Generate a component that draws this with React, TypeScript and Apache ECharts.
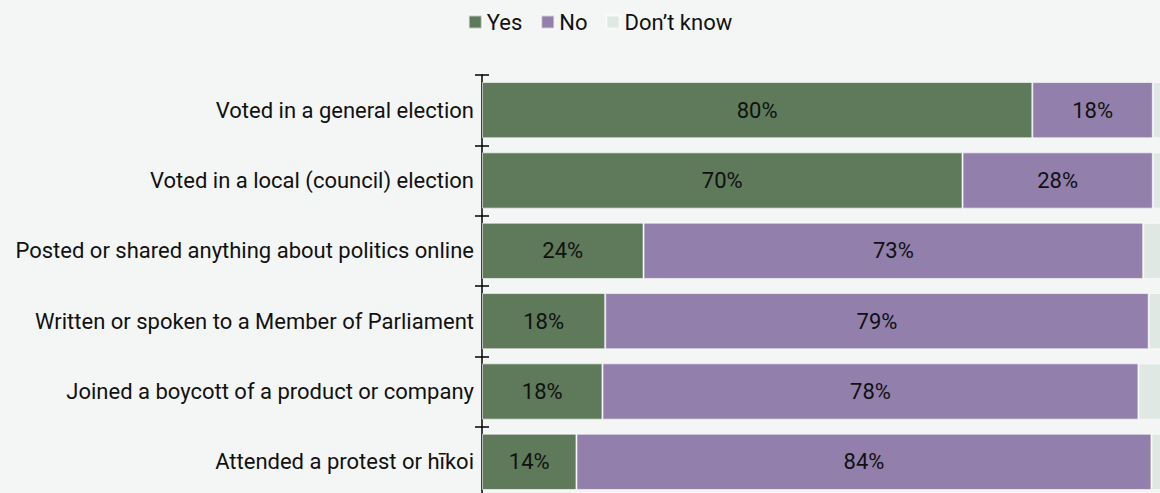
import React, { useEffect, useRef } from "react";
import * as echarts from "echarts";

const categories = [
  "Voted in a general election",
  "Voted in a local (council) election",
  "Posted or shared anything about politics online",
  "Written or spoken to a Member of Parliament",
  "Joined a boycott of a product or company",
  "Attended a protest or hīkoi",
];
const yesValues = [80.4, 70.2, 23.6, 18.0, 17.6, 13.8];
const noValues = [17.6, 27.8, 73.0, 79.4, 78.3, 84.0];
const dkValues = [2.0, 2.0, 3.4, 2.6, 4.1, 2.2];
const seriesNames = ["Yes", "No", "Don’t know"];
const colors = ["#5e7a5a", "#927fab", "#e0e8e4"];

export default function App() {
  const ref = useRef<HTMLDivElement>(null);
  useEffect(() => {
    if (!ref.current) return;
    const chart = echarts.init(ref.current, null, { renderer: "svg" });
    const font = "Roboto";
    const mk = (name: string, data: number[], color: string, showLabel: boolean) => ({
      name,
      type: "bar",
      stack: "total",
      barWidth: "80%",
      data,
      itemStyle: { color, borderColor: "rgba(255,255,255,0.6)", borderWidth: 1 },
      label: {
        show: showLabel,
        position: "inside",
        color: "#111",
        fontFamily: font,
        fontSize: 22,
        formatter: (p: any) => Math.round(p.value) + "%",
      },
      emphasis: { disabled: true },
    });
    chart.setOption({
      animation: false,
      backgroundColor: "#f4f6f5",
      color: colors,
      legend: {
        top: 6,
        left: "center",
        itemWidth: 13,
        itemHeight: 13,
        itemGap: 18,
        icon: "rect",
        textStyle: { fontFamily: font, fontSize: 22, color: "#111" },
        data: seriesNames,
      },
      grid: { left: 482, top: 75, width: 684.5, height: 422, containLabel: false },
      xAxis: { type: "value", min: 0, max: 100, show: false },
      yAxis: [
        {
          type: "category",
          data: categories,
          inverse: true,
          axisLine: { show: true, lineStyle: { color: "#000", width: 1.5 } },
          axisTick: { show: true, length: 7, lineStyle: { color: "#000", width: 1.5 } },
          axisLabel: { fontFamily: font, fontSize: 22, color: "#111", margin: 8 },
        },
        {
          type: "category",
          data: categories,
          inverse: true,
          position: "left",
          axisLine: { show: false },
          axisTick: { show: true, inside: true, length: 7, lineStyle: { color: "#000", width: 1.5 } },
          axisLabel: { show: false },
        },
      ],
      series: [
        mk(seriesNames[0], yesValues, colors[0], true),
        mk(seriesNames[1], noValues, colors[1], true),
        mk(seriesNames[2], dkValues, colors[2], false),
      ],
    });
    return () => chart.dispose();
  }, []);
  return (
    <div style={{ position: "fixed", left: 0, top: 0, width: 1160, height: 493, overflow: "hidden" }}>
      <div ref={ref} style={{ width: 1200, height: 520 }} />
    </div>
  );
}
